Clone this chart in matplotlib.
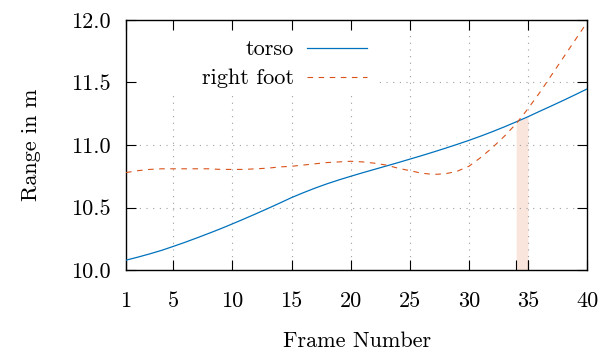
import numpy as np
import matplotlib
matplotlib.use("Agg")
from matplotlib import pyplot as plt
from matplotlib.patches import Rectangle

frames = np.arange(1, 41)
torso = [10.080, 10.104, 10.130, 10.158, 10.190, 10.223, 10.258, 10.294, 10.331, 10.370,
         10.410, 10.451, 10.493, 10.536, 10.580, 10.619, 10.656, 10.690, 10.721, 10.750,
         10.778, 10.805, 10.832, 10.859, 10.887, 10.915, 10.944, 10.974, 11.005, 11.037,
         11.071, 11.107, 11.145, 11.185, 11.226, 11.270, 11.313, 11.357, 11.402, 11.448]
right_foot = [10.78, 10.795, 10.805, 10.81, 10.81, 10.81, 10.81, 10.81, 10.805, 10.805,
              10.805, 10.81, 10.815, 10.825, 10.83, 10.84, 10.85, 10.86, 10.865, 10.87,
              10.865, 10.855, 10.84, 10.815, 10.795, 10.775, 10.765, 10.77, 10.79, 10.83,
              10.90, 10.98, 11.07, 11.17, 11.29, 11.42, 11.56, 11.70, 11.84, 11.98]
x_ticks = [1, 5, 10, 15, 20, 25, 30, 35, 40]
y_ticks = [10.0, 10.5, 11.0, 11.5, 12.0]
band = (34, 35)

plt.rcParams['font.family'] = ['cmr10', 'DejaVu Serif']
plt.rcParams['axes.formatter.use_mathtext'] = True
plt.rcParams['font.size'] = 16

fig = plt.figure(figsize=(6.09, 3.55), dpi=100)
ax = fig.add_axes([0.207, 0.239, 0.757, 0.705])

# dotted grid drawn by hand so the legend box can sit between grid and ticks
grid_style = dict(color='#a0a0a0', lw=0.8, linestyle=(0, (1, 5)), zorder=0.1)
for xv in x_ticks[1:-1]:
    ax.axvline(xv, **grid_style)
for yv in y_ticks[1:-1]:
    ax.axhline(yv, **grid_style)

# shaded frame interval, filled up to the torso curve
xf = np.linspace(band[0], band[1], 50)
ax.fill_between(xf, 10.0, np.interp(xf, frames, torso),
                color='#f9e5dc', lw=0, zorder=0.05)
ax.vlines(band, 10, 10.085, color='black', lw=0.8, zorder=0.6)

ax.plot(frames, torso, color='#0072BD', lw=0.9, label='torso', zorder=3)
ax.plot(frames, right_foot, color='#D95319', lw=0.8, dashes=(5, 5),
        label='right foot', zorder=3)

ax.set_xlim(1, 40)
ax.set_ylim(10, 12)
ax.set_xticks(x_ticks)
ax.set_xticklabels([str(t) for t in x_ticks])
ax.set_yticks(y_ticks)
ax.set_yticklabels([f'{t:.1f}' for t in y_ticks])
ax.set_axisbelow(True)
ax.tick_params(direction='in', length=7, width=0.8, top=True, right=True)
ax.tick_params(axis='x', pad=15)
ax.tick_params(axis='y', pad=11)
for s in ax.spines.values():
    s.set_linewidth(1.0)

ax.set_xlabel('Frame Number', labelpad=15)
ax.set_ylabel('Range in m', labelpad=22)

# white box behind the legend hides the grid there
ax.add_patch(Rectangle((0, 0.712), 0.547, 0.288, transform=ax.transAxes,
                       facecolor='white', edgecolor='none', zorder=0.3))
leg = ax.legend(loc='upper left', bbox_to_anchor=(0.121, 1.0), markerfirst=False,
                frameon=False, handlelength=2.7, borderaxespad=0.0, borderpad=0.9,
                labelspacing=0.42, handletextpad=0.6)
leg.set_zorder(0.4)
for t in leg.get_texts():
    t.set_ha('right')

fig.savefig('out.png', dpi=100)
